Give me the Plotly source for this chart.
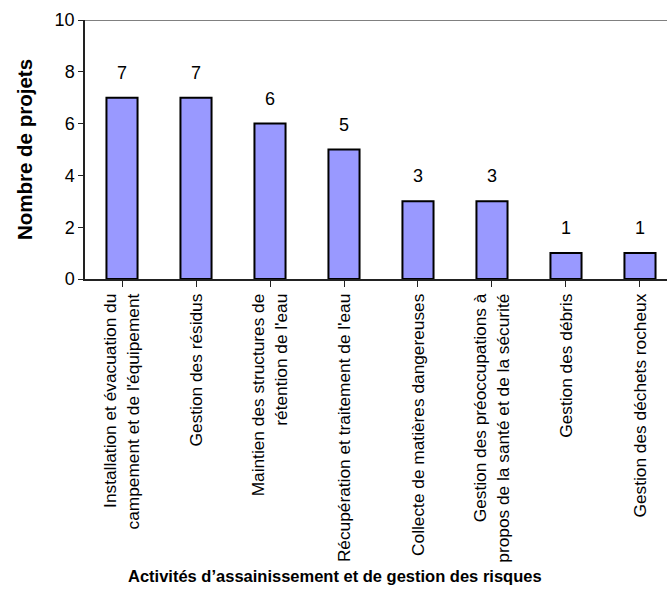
import plotly.graph_objects as go

categories = [
    "Installation et évacuation du<br>campement et de l'équipement",
    "Gestion des résidus",
    "Maintien des structures de<br>rétention de l'eau",
    "Récupération et traitement de l'eau",
    "Collecte de matières dangereuses",
    "Gestion des préoccupations à<br>propos de la santé et de la sécurité",
    "Gestion des débris",
    "Gestion des déchets rocheux",
]
values = [7, 7, 6, 5, 3, 3, 1, 1]
y_ticks = [0, 2, 4, 6, 8, 10]

FONT = "Liberation Sans, Arial, sans-serif"
xs = list(range(len(categories)))

fig = go.Figure(
    go.Bar(
        x=xs,
        y=values,
        marker=dict(color="#9999FF", line=dict(color="black", width=2)),
        width=0.42,
        hoverinfo="skip",
    )
)

annotations = [
    dict(x=x, y=v, text=str(v), xref="x", yref="y", showarrow=False,
         yanchor="bottom", yshift=13,
         font=dict(family=FONT, size=18, color="black"))
    for x, v in zip(xs, values)
]
annotations.append(
    dict(
        text="<b>Activités d’assainissement et de gestion des risques</b>",
        xref="paper", yref="paper",
        x=(335 - 85) / 582, y=-(576 - 279) / 259,
        xanchor="center", yanchor="middle",
        showarrow=False,
        font=dict(family=FONT, size=16.5, color="black"),
    )
)

fig.update_layout(
    width=667,
    height=592,
    margin=dict(l=85, r=0, t=20, b=313),
    paper_bgcolor="white",
    plot_bgcolor="white",
    showlegend=False,
    font=dict(family=FONT, color="black"),
    xaxis=dict(
        range=[-0.5, 7.365],
        tickmode="array",
        tickvals=xs,
        ticktext=categories,
        tickangle=-90,
        tickfont=dict(family=FONT, size=17.3, color="black"),
        showline=True,
        linecolor="#222",
        linewidth=1.5,
        ticks="outside",
        tickson="boundaries",
        ticklen=6,
        tickcolor="#222",
        showgrid=False,
        zeroline=False,
    ),
    yaxis=dict(
        range=[0, 10],
        tickvals=y_ticks,
        tickfont=dict(family=FONT, size=18, color="black"),
        showline=True,
        linecolor="#222",
        linewidth=1.5,
        ticks="outside",
        ticklen=5,
        tickcolor="#222",
        showgrid=False,
        zeroline=False,
        title=dict(
            text="<b>Nombre de projets</b>",
            font=dict(family=FONT, size=20.5, color="black"),
            standoff=16,
        ),
    ),
    shapes=[
        dict(type="line", xref="paper", x0=0, x1=1, yref="y", y0=10, y1=10,
             line=dict(color="#808080", width=2)),
    ],
    annotations=annotations,
)

fig.write_html("out.html")
